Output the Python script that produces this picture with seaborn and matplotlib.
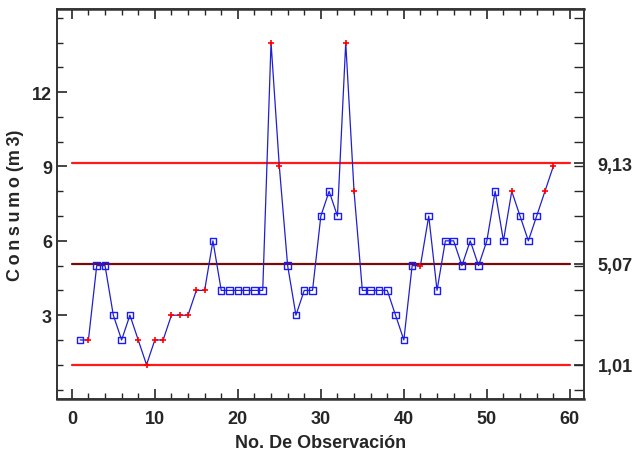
import pandas as pd
import matplotlib.pyplot as plt
import matplotlib.ticker as mticker
import seaborn as sns

observacion = list(range(1, 59))
consumo = [2, 2, 5, 5, 3, 2, 3, 2, 1, 2,
           2, 3, 3, 3, 4, 4, 6, 4, 4, 4,
           4, 4, 4, 14, 9, 5, 3, 4, 4, 7,
           8, 7, 14, 8, 4, 4, 4, 4, 3, 2,
           5, 5, 7, 4, 6, 6, 5, 6, 5, 6,
           8, 6, 8, 7, 6, 7, 8, 9]
# puntos marcados en rojo (fuera de control / rachas)
marcados = [2, 8, 9, 10, 11, 12, 13, 14, 15, 16, 24, 25, 33, 34, 42, 53, 57, 58]

lcs = 9.13
lc = 5.07
lci = 1.01
limite_labels = ["1,01", "5,07", "9,13"]

df = pd.DataFrame({"obs": observacion, "consumo": consumo})
df["estado"] = ["rojo" if o in marcados else "azul" for o in df["obs"]]

sns.set_style("ticks")
plt.rcParams["font.family"] = ["Liberation Sans", "DejaVu Sans"]
plt.rcParams["font.weight"] = "bold"

fig = plt.figure(figsize=(6.32, 4.6), dpi=100)
ax = fig.add_axes([0.090, 0.130, 0.834, 0.848])

# limites de control
ax.plot([0, 60], [lcs, lcs], color="#ff1a1a", lw=1.6, zorder=1)
ax.plot([0, 60], [lci, lci], color="#ff1a1a", lw=1.6, zorder=1)
ax.plot([0, 60], [lc, lc], color="#7a0a0a", lw=1.6, zorder=1)

sns.lineplot(data=df, x="obs", y="consumo", color="#2020d0", lw=0.9, ax=ax, zorder=2)
sns.scatterplot(data=df[df["estado"] == "azul"], x="obs", y="consumo", marker="s",
                s=22, facecolor="none", edgecolor="#1a1aff", linewidth=1.0, ax=ax, zorder=3)
sns.scatterplot(data=df[df["estado"] == "rojo"], x="obs", y="consumo", marker="+",
                s=22, color="#ff0000", linewidth=1.2, ax=ax, zorder=3)

ax.set_xlim(-1.8, 61.7)
ax.set_ylim(-0.39, 15.35)
ax.xaxis.set_major_locator(mticker.MultipleLocator(10))
ax.xaxis.set_minor_locator(mticker.MultipleLocator(2))
ax.yaxis.set_major_locator(mticker.FixedLocator([3, 6, 9, 12]))
ax.yaxis.set_minor_locator(mticker.MultipleLocator(1))
ax.tick_params(axis="both", which="both", direction="in", labelsize=13)
ax.tick_params(axis="x", which="both", top=True)
ax.tick_params(axis="both", which="major", length=7, width=1.2)
ax.tick_params(axis="both", which="minor", length=4, width=1.0)
ax.tick_params(axis="x", pad=8)

ax2 = ax.twinx()
ax2.set_ylim(ax.get_ylim())
ax2.yaxis.set_major_locator(mticker.FixedLocator([lci, lc, lcs]))
ax2.yaxis.set_major_formatter(mticker.FixedFormatter(limite_labels))
ax2.yaxis.set_minor_locator(mticker.MultipleLocator(1))
ax2.tick_params(axis="y", which="both", direction="in", labelsize=13, pad=10)
ax2.tick_params(axis="y", which="major", length=7, width=1.2)
ax2.tick_params(axis="y", which="minor", length=7, width=1.0)

for a in (ax, ax2):
    for sp in a.spines.values():
        sp.set_color("#333333")
        sp.set_linewidth(1.2)
ax.spines["bottom"].set_linewidth(1.8)
ax.spines["top"].set_linewidth(1.8)

ax.set_xlabel("No. De Observación", fontsize=13, fontweight="bold", labelpad=5)
ax.set_ylabel("C\u2009o\u2009n\u2009s\u2009u\u2009m\u2009o (m\u20093)", fontsize=13,
              fontweight="bold", labelpad=6)

fig.savefig("out.png", dpi=100)
